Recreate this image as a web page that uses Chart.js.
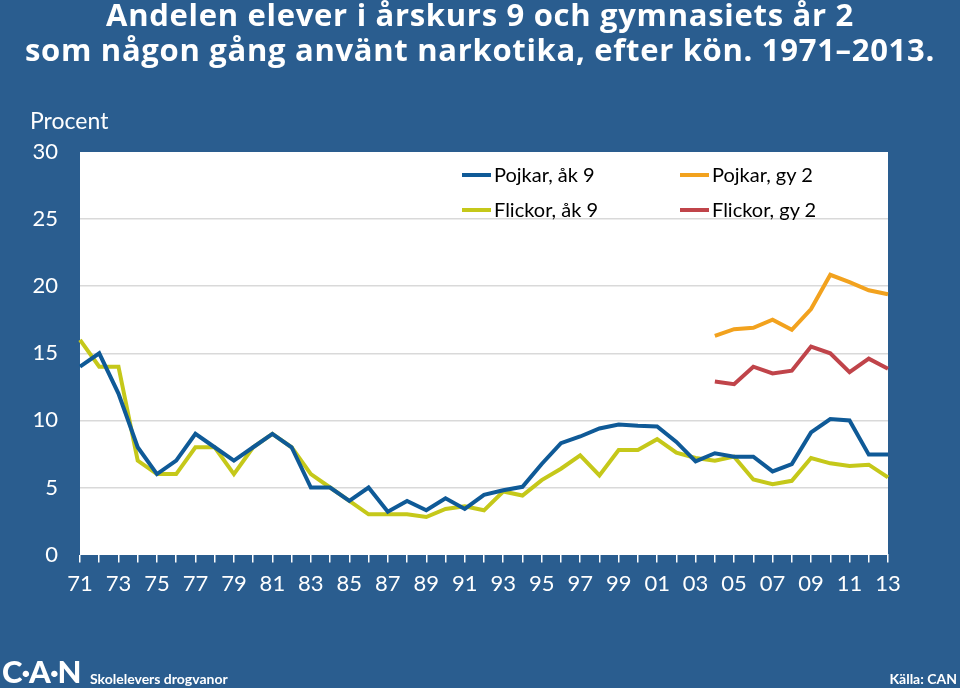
<!DOCTYPE html>
<html>
<head>
<meta charset="utf-8">
<script src="https://cdn.jsdelivr.net/npm/chart.js@4"></script>
<style>
  body { margin: 0; background: #2a5d8f; font-family: Lato, sans-serif; }
  #wrap { position: relative; width: 960px; height: 688px; overflow: hidden; }
  #grafico { position: absolute; left: 0; top: 0; }
  .titel { position: absolute; left: 0; width: 960px; text-align: center; color: #fff;
           font-family: 'Open Sans', sans-serif; font-weight: bold; font-size: 31px; letter-spacing: 0.7px;
           line-height: 35px; top: -3px; }
  .enhet { position: absolute; left: 30px; top: 106px; color: #fff; font-size: 23px; }
  .leg { position: absolute; color: #000; font-size: 20px; }
  .leg span { display: inline-block; width: 29px; height: 4px; vertical-align: middle; margin-right: 3px; position: relative; top: -2px; }
  .logo { position: absolute; left: 2px; top: 652px; color: #fff; font-weight: 900; font-size: 31px; letter-spacing: -1px; }
  .fot { position: absolute; color: #fff; font-weight: bold; font-size: 14px; top: 670px; }
</style>
</head>
<body>
<div id="wrap">
  <canvas id="grafico" width="960" height="688"></canvas>
  <div class="titel">Andelen elever i årskurs 9 och gymnasiets år 2<br>som någon gång använt narkotika, efter kön. 1971–2013.</div>
  <div class="enhet">Procent</div>
  <div class="leg" style="left:462px; top:162px;"><span style="background:#0f5a97"></span>Pojkar, åk 9</div>
  <div class="leg" style="left:462px; top:197px;"><span style="background:#c5c81a"></span>Flickor, åk 9</div>
  <div class="leg" style="left:680px; top:162px;"><span style="background:#f2a21e"></span>Pojkar, gy 2</div>
  <div class="leg" style="left:680px; top:197px;"><span style="background:#c0444a"></span>Flickor, gy 2</div>
  <div class="logo">C·A·N</div>
  <div class="fot" style="left:90px;">Skolelevers drogvanor</div>
  <div class="fot" style="right:3px;">Källa: CAN</div>
</div>
<script>
const ar = ['71','72','73','74','75','76','77','78','79','80','81','82','83','84','85','86','87','88','89','90',
            '91','92','93','94','95','96','97','98','99','00','01','02','03','04','05','06','07','08','09','10',
            '11','12','13'];

const pojkarAk9 = [14, 15, 12, 8, 6, 7, 9, 8, 7, 8, 9, 8, 5, 5, 4, 5, 3.2, 4, 3.3, 4.2,
                   3.4, 4.45, 4.8, 5.05, 6.75, 8.3, 8.8, 9.4, 9.7, 9.6, 9.55, 8.4, 6.95, 7.55, 7.3, 7.3, 6.2, 6.75, 9.1, 10.1,
                   10, 7.45, 7.45];
const flickorAk9 = [16, 14, 14, 7, 6, 6, 8, 8, 6, 8, 9, 8, 6, 5, 4, 3, 3, 3, 2.8, 3.4,
                    3.6, 3.3, 4.7, 4.4, 5.55, 6.4, 7.4, 5.9, 7.8, 7.8, 8.6, 7.6, 7.2, 7, 7.3, 5.6, 5.25, 5.5, 7.2, 6.8,
                    6.6, 6.7, 5.75];

const arGy2 = ['04','05','06','07','08','09','10','11','12','13'];
const pojkarGy2 = [16.3, 16.8, 16.9, 17.5, 16.75, 18.3, 20.85, 20.3, 19.7, 19.4];
const flickorGy2 = [12.9, 12.7, 14, 13.5, 13.7, 15.5, 15, 13.6, 14.6, 13.85];

const yTicks = [0, 5, 10, 15, 20, 25, 30];

function punkter(xs, ys) {
  return xs.map((x, i) => ({ x: x, y: ys[i] }));
}

// vit bakgrund i ritytan
const vitYta = {
  id: 'vitYta',
  beforeDraw(chart) {
    const a = chart.chartArea;
    const c = chart.ctx;
    c.save();
    c.fillStyle = '#ffffff';
    c.fillRect(a.left, a.top, a.right - a.left, a.bottom - a.top);
    c.restore();
  }
};

const ctx = document.getElementById('grafico').getContext('2d');
const grafico = new Chart(ctx, {
  type: 'line',
  data: {
    labels: ar,
    datasets: [
      { label: 'Pojkar, åk 9', data: pojkarAk9, borderColor: '#0f5a97' },
      { label: 'Flickor, åk 9', data: flickorAk9, borderColor: '#c5c81a' },
      { label: 'Pojkar, gy 2', data: punkter(arGy2, pojkarGy2), borderColor: '#f2a21e' },
      { label: 'Flickor, gy 2', data: punkter(arGy2, flickorGy2), borderColor: '#c0444a' }
    ]
  },
  options: {
    responsive: false,
    animation: false,
    elements: {
      point: { radius: 0 },
      line: { borderWidth: 4, tension: 0, borderJoinStyle: 'miter' }
    },
    layout: { padding: { left: 0, top: 152, right: 72, bottom: 83 } },
    plugins: { legend: { display: false }, tooltip: { enabled: false } },
    scales: {
      x: {
        offset: false,
        grid: { offset: false, drawOnChartArea: false, drawTicks: true, tickLength: 8, color: '#ffffff', lineWidth: 1.5 },
        border: { display: true, color: '#ffffff', width: 1 },
        ticks: {
          autoSkip: false, maxRotation: 0, padding: 8, color: '#ffffff',
          font: { family: 'Lato', size: 22 },
          callback: (v, i) => (i % 2 === 0 ? ar[i] : '')
        }
      },
      y: {
        min: 0, max: 30,
        afterFit: s => { s.width = 80; },
        afterBuildTicks: s => { s.ticks = yTicks.map(v => ({ value: v })); },
        grid: {
          drawTicks: false, lineWidth: 1.5,
          color: c => (c.tick.value === 0 || c.tick.value === 30 ? 'rgba(0,0,0,0)' : '#d9d9d9')
        },
        border: { display: false },
        ticks: { padding: 22, color: '#ffffff', font: { family: 'Lato', size: 22 } }
      }
    }
  },
  plugins: [vitYta]
});
</script>
</body>
</html>
